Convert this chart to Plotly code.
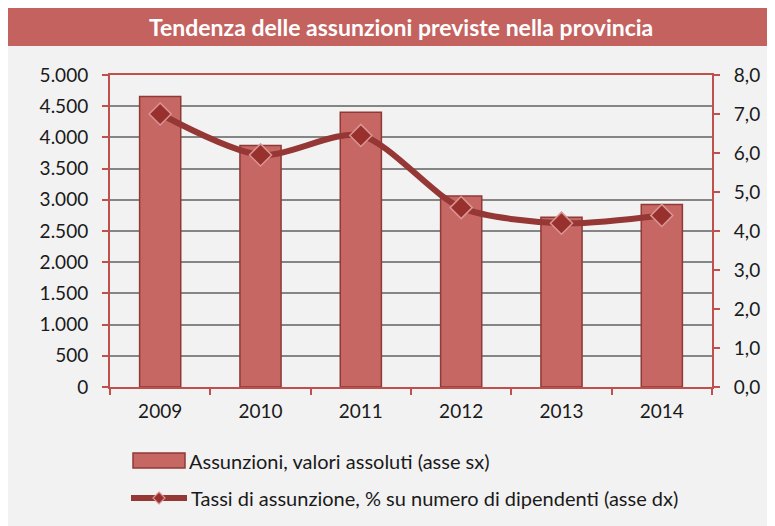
import plotly.graph_objects as go

years = ["2009", "2010", "2011", "2012", "2013", "2014"]
assunzioni = [4655, 3870, 4405, 3060, 2720, 2925]
tassi = [7.0, 5.95, 6.45, 4.6, 4.2, 4.4]

bar_name = "Assunzioni, valori assoluti (asse sx)"
line_name = "Tassi di assunzione, % su numero di dipendenti (asse dx)"
title_text = "Tendenza delle assunzioni previste nella provincia"

# page is rendered with an 8px body margin
OFF = 8
W, H = 775 - OFF, 526 - OFF
L, R, T, B = 110, 712, 75, 387   # plot area in page pixels
FONT = "Lato"
RED = "#c0504d"

def px(x):
    return (x - L) / (R - L)

def py(y):
    return (B - y) / (B - T)

fig = go.Figure()
fig.add_trace(go.Bar(
    x=years, y=assunzioni, name=bar_name,
    marker=dict(color="#c76764", line=dict(color="#8e3a37", width=1.5)),
    yaxis="y", showlegend=False,
))
fig.add_trace(go.Scatter(
    x=years, y=tassi, name=line_name, mode="lines+markers",
    line=dict(color="#953735", width=6, shape="spline", smoothing=0.8),
    marker=dict(symbol="diamond", size=17, color="#98302d",
                line=dict(color="#d99694", width=1.5)),
    yaxis="y2", showlegend=False,
))

shapes = [
    dict(type="rect", xref="paper", yref="paper", x0=px(8), x1=px(776), y0=py(527), y1=py(46),
         fillcolor="#f2f2f2", line=dict(width=0), layer="below"),
    dict(type="rect", xref="paper", yref="paper", x0=px(8), x1=px(776), y0=py(46), y1=py(8),
         fillcolor="#c4625f", line=dict(width=0), layer="below"),
    # legend symbols
    dict(type="rect", xref="paper", yref="paper", x0=px(133), x1=px(185), y0=py(468), y1=py(453),
         fillcolor="#c76764", line=dict(color="#8e3a37", width=1.5)),
    dict(type="line", xref="paper", yref="paper", x0=px(131), x1=px(187), y0=py(498), y1=py(498),
         line=dict(color="#953735", width=6)),
    dict(type="path", xref="paper", yref="paper",
         path=f"M {px(159)},{py(492)} L {px(165)},{py(498)} L {px(159)},{py(504)} L {px(153)},{py(498)} Z",
         fillcolor="#98302d", line=dict(color="#d99694", width=1.2)),
]

annotations = [
    dict(text=f"<b>{title_text}</b>", xref="paper", yref="paper", x=px(401), y=py(27),
         showarrow=False, font=dict(family=FONT, size=23, color="white"),
         xanchor="center", yanchor="middle"),
    dict(text=bar_name, xref="paper", yref="paper", x=px(187), y=py(461),
         showarrow=False, font=dict(family=FONT, size=20, color="#1a1a1a"),
         xanchor="left", yanchor="middle"),
    dict(text=line_name, xref="paper", yref="paper", x=px(189), y=py(498),
         showarrow=False, font=dict(family=FONT, size=20, color="#1a1a1a"),
         xanchor="left", yanchor="middle"),
]

fig.update_layout(
    width=W, height=H,
    margin=dict(l=L - OFF, r=W - (R - OFF), t=T - OFF, b=H - (B - OFF), pad=0),
    paper_bgcolor="white", plot_bgcolor="white",
    separators=",.",
    bargap=0.59,
    shapes=shapes, annotations=annotations,
    font=dict(family=FONT, size=19, color="#1a1a1a"),
    xaxis=dict(showline=True, linecolor=RED, linewidth=2, mirror=True,
               ticks="outside", tickson="boundaries", ticklen=6, tickwidth=2, tickcolor=RED,
               showgrid=False, tickfont=dict(family=FONT, size=19), ticklabelstandoff=6),
    yaxis=dict(range=[0, 5000], dtick=500, tickformat=",d", showline=True, linecolor=RED, linewidth=2,
               ticks="outside", ticklen=6, tickwidth=2, tickcolor=RED,
               showgrid=True, gridcolor="#858585", gridwidth=2, zeroline=False,
               tickfont=dict(family=FONT, size=19), ticklabelstandoff=10),
    yaxis2=dict(range=[0, 8], dtick=1, tickformat=".1f", overlaying="y", side="right",
                showline=True, linecolor=RED, linewidth=2,
                ticks="outside", ticklen=6, tickwidth=2, tickcolor=RED,
                showgrid=False, zeroline=False,
                tickfont=dict(family=FONT, size=19), ticklabelstandoff=10),
)

fig.write_html("out.html")
